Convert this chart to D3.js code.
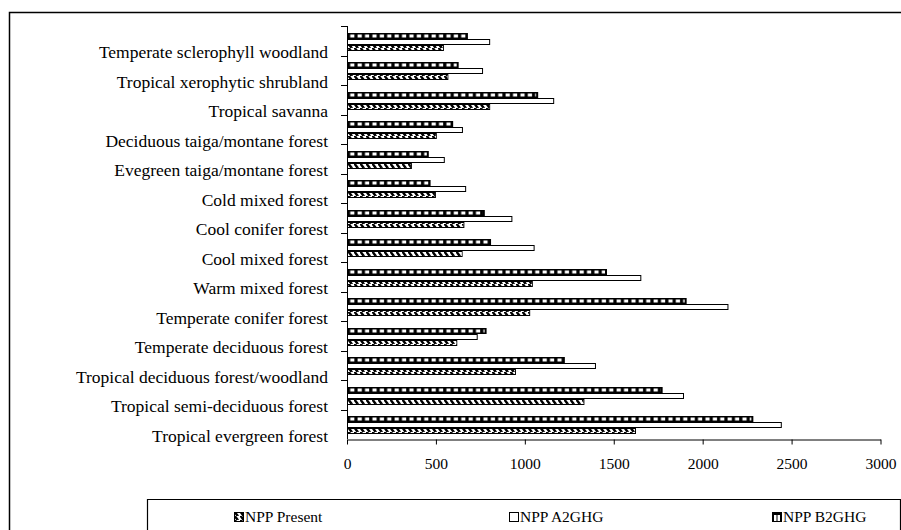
<!DOCTYPE html>
<html><head><meta charset="utf-8">
<script src="https://cdn.jsdelivr.net/npm/d3@7"></script>
<style>
body{margin:0;background:#fff;}
svg{display:block;font-family:"Liberation Serif","Times New Roman",serif;}
</style></head>
<body><svg id="chart" width="901" height="530"></svg>
<script>
// categories as displayed, top to bottom
const categories = [
  "Temperate sclerophyll woodland",
  "Tropical xerophytic shrubland",
  "Tropical savanna",
  "Deciduous taiga/montane forest",
  "Evegreen taiga/montane forest",
  "Cold mixed forest",
  "Cool conifer forest",
  "Cool mixed forest",
  "Warm mixed forest",
  "Temperate conifer forest",
  "Temperate deciduous forest",
  "Tropical deciduous forest/woodland",
  "Tropical semi-deciduous forest",
  "Tropical evergreen forest"
];
const nppPresent = [545, 570, 805, 505, 365, 500, 660, 650, 1045, 1030, 620, 950, 1335, 1625];
const nppA2GHG   = [805, 765, 1165, 652, 550, 670, 930, 1055, 1655, 2145, 735, 1400, 1895, 2445];
const nppB2GHG   = [680, 628, 1075, 597, 460, 470, 775, 810, 1462, 1910, 785, 1225, 1775, 2285];
const seriesNames = ["NPP Present", "NPP A2GHG", "NPP B2GHG"];
const xTicks = [0, 500, 1000, 1500, 2000, 2500, 3000];

const svg = d3.select("#chart");
const defs = svg.append("defs");

// B2 pattern: black with white blocks
const pb = defs.append("pattern").attr("id","pB2").attr("patternUnits","userSpaceOnUse")
  .attr("width",7.4).attr("height",1);
pb.append("rect").attr("width",7.4).attr("height",1).attr("fill","#000");
pb.append("rect").attr("x",2.4).attr("width",4.2).attr("height",1).attr("fill","#fff");

// Present pattern: diagonal dashes
const pp = defs.append("pattern").attr("id","pPres").attr("patternUnits","userSpaceOnUse")
  .attr("width",6).attr("height",4);
pp.append("rect").attr("width",6).attr("height",4).attr("fill","#fff");
pp.append("path").attr("d","M0,0L3,4M1.4,0L4.4,4").attr("stroke","#000").attr("stroke-width",1.3);

// Outer frame
svg.append("path").attr("d","M9.5,540V12.5H905").attr("fill","none").attr("stroke","#000").attr("stroke-width",1.5);

const x = d3.scaleLinear().domain([0,3000]).range([347,880.5]);
const y = d3.scaleBand().domain(categories).range([26,439]);
const sub = d3.scaleBand().domain(["B2","A2","Present"]).range([6.5, 25]);

const series = [
  {key:"B2", vals:nppB2GHG},
  {key:"A2", vals:nppA2GHG},
  {key:"Present", vals:nppPresent}
];

const g = svg.append("g");
series.forEach(s=>{
  categories.forEach((c,i)=>{
    const y0 = Math.round(y(c) + sub(s.key));
    const h = Math.round(sub.bandwidth());
    const x0 = x(0), w = x(s.vals[i]) - x(0);
    if(s.key==="A2"){
      g.append("rect").attr("x",x0+0.5).attr("y",y0+0.5).attr("width",w-1).attr("height",h-1)
        .attr("fill","#fff").attr("stroke","#000").attr("stroke-width",1);
    } else if(s.key==="B2"){
      g.append("rect").attr("x",x0).attr("y",y0).attr("width",w).attr("height",h).attr("fill","#000");
      g.append("rect").attr("x",x0+1).attr("y",y0+1.5).attr("width",Math.max(0,w-3)).attr("height",h-3)
        .attr("fill","url(#pB2)");
    } else {
      g.append("rect").attr("x",x0+0.5).attr("y",y0+0.5).attr("width",w-1).attr("height",h-1)
        .attr("fill","#fff").attr("stroke","#000").attr("stroke-width",1);
      g.append("rect").attr("x",x0+1).attr("y",y0+1).attr("width",Math.max(0,w-2)).attr("height",h-2)
        .attr("fill","url(#pPres)");
    }
  });
});

// Y axis: line and ticks at band boundaries
const yAx = svg.append("g").attr("stroke","#000").attr("stroke-width",1);
yAx.append("line").attr("x1",347.5).attr("x2",347.5).attr("y1",y.range()[0]).attr("y2",y.range()[1]);
categories.forEach(c=>{
  yAx.append("line").attr("x1",341).attr("x2",347.5)
    .attr("y1",Math.round(y(c))+0.5).attr("y2",Math.round(y(c))+0.5);
});

// Category labels
svg.append("g").selectAll("text").data(categories).join("text")
  .attr("x",328).attr("y",d=>y(d)+y.bandwidth()+2.5)
  .attr("text-anchor","end").attr("font-size",17.5).attr("fill","#000")
  .text(d=>d);

// X axis
const xAxis = svg.append("g").attr("transform","translate(0,439.5)")
  .call(d3.axisBottom(x).tickValues(xTicks).tickSize(5).tickPadding(13).tickSizeOuter(0).tickFormat(d3.format("d")));
xAxis.select(".domain").attr("stroke","#000");
xAxis.selectAll(".tick line").attr("stroke","#000");
xAxis.selectAll("text").attr("font-size",15.5).attr("font-family","Liberation Serif, serif").attr("fill","#000");

// Legend
const leg = svg.append("g");
leg.append("path").attr("d","M147.5,540V499.5H900.5V540").attr("fill","none").attr("stroke","#000").attr("stroke-width",1.2);
const legItems = [
  {name:seriesNames[0], sx:234, key:"Present"},
  {name:seriesNames[1], sx:509, key:"A2"},
  {name:seriesNames[2], sx:772, key:"B2"}
];
legItems.forEach(it=>{
  const sy = 512;
  if(it.key==="A2"){
    leg.append("rect").attr("x",it.sx+0.5).attr("y",sy+0.5).attr("width",9).attr("height",9)
      .attr("fill","#fff").attr("stroke","#000");
  } else if(it.key==="B2"){
    leg.append("rect").attr("x",it.sx).attr("y",sy).attr("width",10).attr("height",10).attr("fill","#000");
    leg.append("rect").attr("x",it.sx+2).attr("y",sy+3).attr("width",2.5).attr("height",6).attr("fill","#fff");
    leg.append("rect").attr("x",it.sx+5.5).attr("y",sy+3).attr("width",2.5).attr("height",6).attr("fill","#fff");
  } else {
    leg.append("rect").attr("x",it.sx+0.5).attr("y",sy+0.5).attr("width",9).attr("height",9)
      .attr("fill","url(#pPres)").attr("stroke","#000");
  }
  leg.append("text").attr("x",it.sx+11).attr("y",sy+10).attr("font-size",15.5).attr("fill","#000").text(it.name);
});
</script>
</body></html>
